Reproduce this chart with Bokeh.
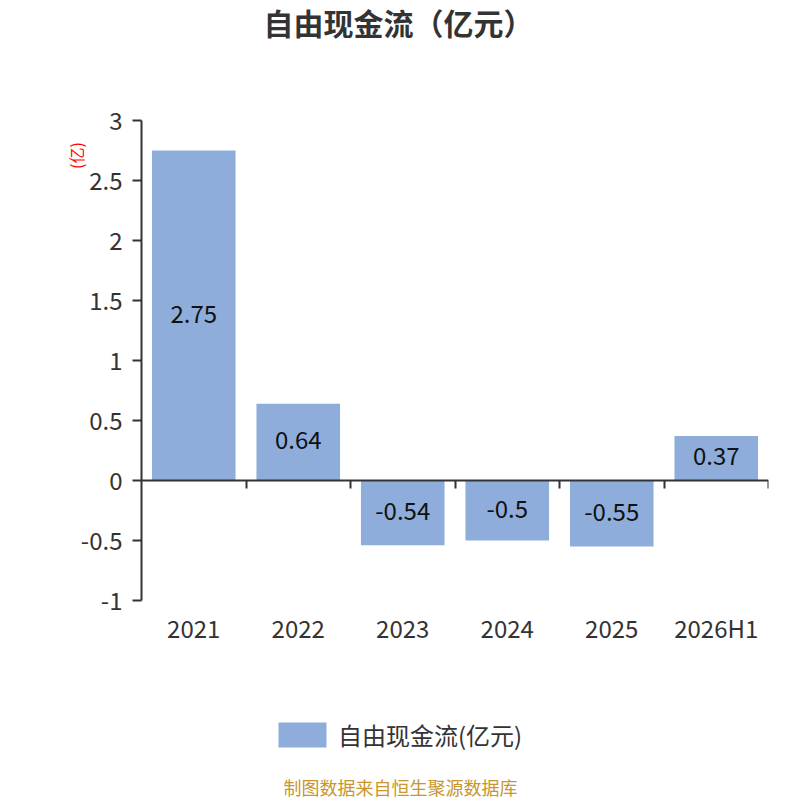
import math
from bokeh.plotting import figure
from bokeh.models import (ColumnDataSource, Range1d, LinearAxis, FixedTicker, Label,
                          Legend, LegendItem)
from bokeh.core.properties import value
from bokeh.embed import file_html
from bokeh.resources import INLINE

categories = ["2021", "2022", "2023", "2024", "2025", "2026H1"]
values = [2.75, 0.64, -0.54, -0.5, -0.55, 0.37]
value_labels = ["2.75", "0.64", "-0.54", "-0.5", "-0.55", "0.37"]
y_ticks = [-1, -0.5, 0, 0.5, 1, 1.5, 2, 2.5, 3]
y_tick_labels = ["-1", "-0.5", "0", "0.5", "1", "1.5", "2", "2.5", "3"]
series_name = "自由现金流(亿元)"
title_text = "自由现金流（亿元）"
unit_text = "(亿)"
footer_text = "制图数据来自恒生聚源数据库"

FONT = "Noto Sans CJK SC"
BAR = "#8eaddb"
N = len(categories)

xs = [i + 0.5 for i in range(N)]
src = ColumnDataSource(dict(x=xs, top=values, mid=[v / 2 for v in values], lab=value_labels))

# frame: x 0..N maps to px 141..768 ; y spans the whole canvas (3 -> 120px, -1 -> 600px)
p = figure(width=800, height=800, output_backend="svg", toolbar_location=None,
           x_range=Range1d(0, N), y_range=Range1d(-1 - 200 / 120, 3 + 120 / 120),
           min_border_left=141, min_border_right=32, min_border_top=0, min_border_bottom=0,
           x_axis_type=None, y_axis_type=None)
p.outline_line_color = None
p.background_fill_color = "white"
p.border_fill_color = "white"

r = p.vbar(x="x", top="top", bottom=0, width=0.8, source=src, fill_color=BAR, line_color=None)
p.text(x="x", y="mid", text="lab", source=src, text_align="center", text_baseline="middle",
       y_offset=-2, text_font=value(FONT), text_font_size="24px", text_color="#111111")

# y axis
ya = LinearAxis(ticker=FixedTicker(ticks=y_ticks), bounds=(-1, 3))
ya.major_label_overrides = {t: l for t, l in zip(y_ticks, y_tick_labels)}
ya.axis_line_color = "#333333"
ya.axis_line_width = 2
ya.major_tick_line_color = "#333333"
ya.major_tick_line_width = 2
ya.major_tick_out = 9
ya.major_tick_in = 0
ya.minor_tick_out = 0
ya.minor_tick_in = 0
ya.major_label_standoff = 10
ya.major_label_text_font = FONT
ya.major_label_text_font_size = "24px"
ya.major_label_text_color = "#333333"
p.add_layout(ya, "left")

# unit label beside the y axis
ua = LinearAxis(ticker=FixedTicker(ticks=[2.82]))
ua.major_label_overrides = {2.82: unit_text}
ua.major_label_orientation = math.pi / 2
ua.axis_line_color = None
ua.major_tick_line_color = None
ua.minor_tick_line_color = None
ua.major_label_standoff = -5
ua.major_label_text_font = FONT
ua.major_label_text_font_size = "16px"
ua.major_label_text_color = "#ff0000"
p.add_layout(ua, "left")

# category labels under the plot area
xa = LinearAxis(ticker=FixedTicker(ticks=xs), fixed_location=-1)
xa.major_label_overrides = {x: c for x, c in zip(xs, categories)}
xa.axis_line_color = None
xa.major_tick_line_color = None
xa.minor_tick_line_color = None
xa.major_label_standoff = 3
xa.major_label_text_font = FONT
xa.major_label_text_font_size = "24px"
xa.major_label_text_color = "#333333"
p.add_layout(xa, "below")

# zero axis line with boundary ticks
za = LinearAxis(ticker=FixedTicker(ticks=list(range(1, N + 1))), fixed_location=0)
za.axis_line_color = "#333333"
za.axis_line_width = 2
za.major_tick_line_color = "#333333"
za.major_tick_line_width = 2
za.major_tick_out = 8
za.major_tick_in = 0
za.minor_tick_out = 0
za.minor_tick_in = 0
za.major_label_text_font_size = "0px"
za.major_label_text_color = None
p.add_layout(za, "below")

p.ygrid.ticker = FixedTicker(ticks=y_ticks)
p.ygrid.grid_line_color = "#cccccc"
p.ygrid.grid_line_dash = "6 4"
p.ygrid.grid_line_width = 1
p.xgrid.visible = False

p.add_layout(Label(x=(398 - 141) / 104.5, y=4 - 21 / 120, text=title_text, text_align="center",
                   text_baseline="middle", text_font=FONT, text_font_size="30px",
                   text_font_style="bold", text_color="#333333"))
p.add_layout(Label(x=(400 - 141) / 104.5, y=4 - 786 / 120, text=footer_text, text_align="center",
                   text_baseline="middle", text_font=FONT, text_font_size="18px",
                   text_color="#c8962c"))

legend = Legend(items=[LegendItem(label=series_name, renderers=[r])], location=(131, 48),
                orientation="horizontal", glyph_width=60, glyph_height=31, padding=0, margin=0,
                label_standoff=6, label_text_font=FONT, label_text_font_size="24px",
                label_text_color="#333333", border_line_color=None, background_fill_alpha=0)
p.add_layout(legend, "center")

open("out.html", "w").write(file_html(p, INLINE))
